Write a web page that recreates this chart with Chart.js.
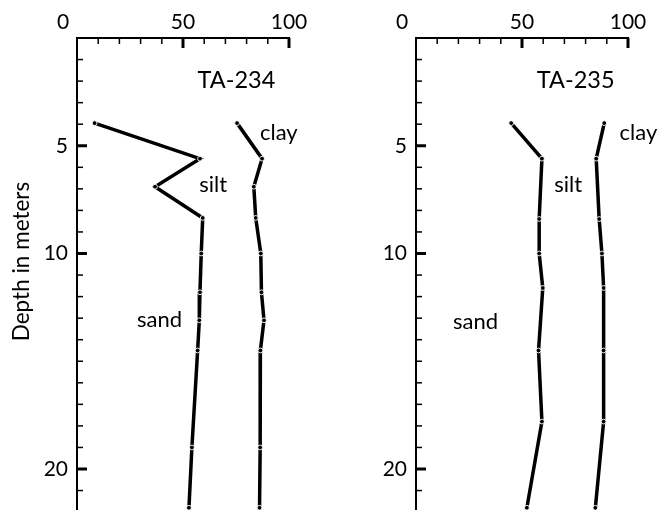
<!DOCTYPE html>
<html><head><meta charset="utf-8">
<script src="https://cdn.jsdelivr.net/npm/chart.js@4.4.1/dist/chart.umd.min.js"></script>
<style>
html,body{margin:0;padding:0;background:#fff;width:659px;height:510px;overflow:hidden;position:relative;}
.panel{position:absolute;top:0;height:517px;}
#p1{left:0;width:330px;}
#p2{left:330px;width:329px;}
</style></head><body>
<div class="panel" id="p1"><canvas id="c1"></canvas></div>
<div class="panel" id="p2"><canvas id="c2"></canvas></div>
<script>
const FONT = 'Lato, "Open Sans", sans-serif';
const xTickLabels = [0, 50, 100];
const yTickLabels = [5, 10, 20];
const axisTitle = 'Depth in meters';

const ta234Depth = [3.95, 5.6, 6.9, 8.35, 10.0, 11.8, 13.1, 14.5, 19.0, 21.8];
const ta234Sand  = [8.3, 58.0, 36.8, 59.3, 58.6, 58.0, 57.7, 56.9, 54.2, 52.8];
const ta234Clay  = [75.5, 87.3, 83.4, 84.3, 86.7, 87.0, 88.2, 86.5, 86.4, 86.1];

const ta235Depth = [3.95, 5.6, 8.4, 10.0, 11.6, 14.5, 17.8, 21.8];
const ta235Sand  = [44.9, 59.4, 58.1, 58.1, 59.8, 57.8, 59.4, 52.3];
const ta235Clay  = [88.8, 85.0, 86.4, 87.7, 88.5, 88.5, 88.5, 84.6];

const X_PAD = 3;

const decor = {
  id: 'decor',
  afterDraw(chart, args, opts) {
    const {ctx, chartArea: a, scales: {x, y}} = chart;
    ctx.save();
    ctx.strokeStyle = '#000';
    ctx.fillStyle = '#000';
    for (let v = 10; v <= 100; v += 10) {
      const px = x.getPixelForValue(v);
      const major = xTickLabels.includes(v);
      ctx.lineWidth = major ? 3 : 1.5;
      ctx.beginPath();
      ctx.moveTo(px, a.top);
      ctx.lineTo(px, a.top + (major ? 10 : 6));
      ctx.stroke();
    }
    for (let v = 1; v <= 22; v++) {
      const py = y.getPixelForValue(v);
      const major = yTickLabels.includes(v);
      ctx.lineWidth = major ? 3 : 1.5;
      ctx.beginPath();
      ctx.moveTo(a.left, py);
      ctx.lineTo(a.left + (major ? 10 : 6), py);
      ctx.stroke();
    }
    ctx.font = '21px ' + FONT;
    ctx.textAlign = 'center';
    ctx.textBaseline = 'middle';
    ctx.fillText(String(xTickLabels[0]), x.getPixelForValue(0) - 14, x.bottom - X_PAD - 21 * 1.2 / 2);
    opts.notes.forEach(n => {
      ctx.font = (n.size || 22) + 'px ' + FONT;
      ctx.fillText(n.text, x.getPixelForValue(n.x), y.getPixelForValue(n.y));
    });
    if (opts.title) {
      ctx.save();
      ctx.font = '22.5px ' + FONT;
      ctx.translate(22, 261.5);
      ctx.rotate(-Math.PI / 2);
      ctx.fillText(axisTitle, 0, 0);
      ctx.restore();
    }
    ctx.restore();
  }
};

function series(xs, ds) { return ds.map((d, i) => ({x: xs[i], y: d})); }

function makePanel(id, sand, clay, depth, yWidth, padRight, notes, title) {
  const lineStyle = {
    showLine: true, borderColor: '#000', borderWidth: 3.5,
    pointRadius: 2.4, pointBackgroundColor: '#000', pointBorderColor: '#fff', pointBorderWidth: 0.9,
    tension: 0
  };
  new Chart(document.getElementById(id), {
    type: 'scatter',
    data: {
      datasets: [
        Object.assign({label: 'sand/silt', data: series(sand, depth)}, lineStyle),
        Object.assign({label: 'silt/clay', data: series(clay, depth)}, lineStyle)
      ]
    },
    options: {
      responsive: true, maintainAspectRatio: false, animation: false,
      layout: {padding: {left: 0, right: padRight, top: 0, bottom: 0}},
      plugins: {legend: {display: false}, tooltip: {enabled: false}, decor: {notes, title}},
      scales: {
        x: {
          type: 'linear', position: 'top', min: 0, max: 100,
          afterFit: s => { s.height = 38; s.paddingLeft = 0; s.paddingRight = 0; },
          ticks: {stepSize: 10, autoSkip: false, maxRotation: 0, padding: X_PAD, color: '#000',
                  font: {family: FONT, size: 21},
                  callback: v => (v !== 0 && xTickLabels.includes(v)) ? String(v) : ''},
          grid: {drawOnChartArea: false, drawTicks: false, tickLength: 0},
          border: {display: true, color: '#000', width: 2}
        },
        y: {
          type: 'linear', reverse: true, min: 0, max: 22,
          afterFit: s => { s.width = yWidth; s.paddingTop = 0; s.paddingBottom = 0; },
          ticks: {stepSize: 1, autoSkip: false, padding: 9, color: '#000',
                  font: {family: FONT, size: 21},
                  callback: v => yTickLabels.includes(v) ? String(v) : ''},
          grid: {drawOnChartArea: false, drawTicks: false, tickLength: 0},
          border: {display: true, color: '#000', width: 2}
        }
      }
    },
    plugins: [decor]
  });
}

makePanel('c1', ta234Sand, ta234Clay, ta234Depth, 77, 41, [
  {text: 'TA-234', x: 75.2, y: 1.95, size: 23.5},
  {text: 'clay', x: 95.2, y: 4.42},
  {text: 'silt', x: 64.2, y: 6.8},
  {text: 'sand', x: 38.9, y: 13.1}
], true);

makePanel('c2', ta235Sand, ta235Clay, ta235Depth, 86, 31, [
  {text: 'TA-235', x: 75.3, y: 1.95, size: 23.5},
  {text: 'clay', x: 104.9, y: 4.42},
  {text: 'silt', x: 71.8, y: 6.8},
  {text: 'sand', x: 28.1, y: 13.16}
], false);
</script>
</body></html>
